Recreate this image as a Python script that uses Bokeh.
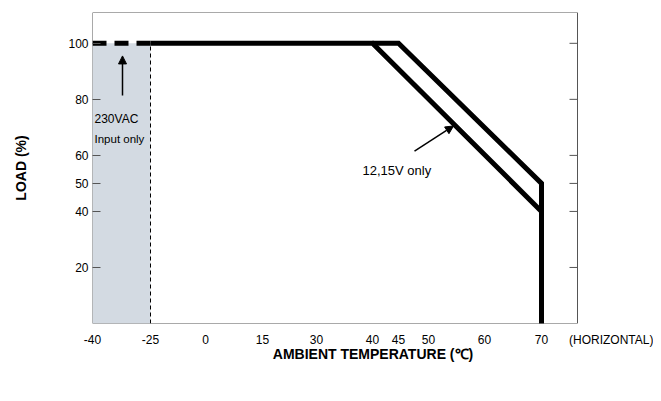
import numpy as np
from bokeh.plotting import figure
from bokeh.models import Label, Arrow, NormalHead, FixedTicker
from bokeh.embed import file_html
from bokeh.resources import INLINE

# axis ticks (the x axis of the original is not linear)
temp_ticks = [-40, -25, 0, 15, 30, 40, 45, 50, 60, 70]
tick_pos = [92, 150, 205, 262, 316, 372, 398, 428, 484, 541]
load_ticks = [20, 40, 50, 60, 80, 100]

# derating curves (temperature, load %)
curve_a_t = [-25, 40, 70, 70]
curve_a_y = [100, 100, 40, 0]
curve_b_t = [40, 45, 70, 70]
curve_b_y = [100, 100, 50, 0]
dash_t = [-40, -25]
dash_y = [100, 100]
shade_t = [-40, -25]

FRAME_R = 577   # right edge of the boxed chart area
Y_TOP = 111


def tx(t):
    return list(np.interp(t, temp_ticks, tick_pos))


FONT = "Liberation Sans"

p = figure(width=653, height=393, x_range=(92, 653), y_range=(0, Y_TOP),
           output_backend="svg", toolbar_location=None,
           min_border_left=92, min_border_right=0, min_border_top=12, min_border_bottom=70)
p.grid.visible = False
p.outline_line_color = None

# box around chart area
box_col = "#555555"
p.segment(x0=[92, 92, 92, FRAME_R], y0=[0, Y_TOP, 0, 0],
          x1=[FRAME_R, FRAME_R, 92, FRAME_R], y1=[0, Y_TOP, Y_TOP, Y_TOP],
          line_color=box_col, line_width=1)
# right-side inward ticks
p.segment(x0=[FRAME_R - 8] * len(load_ticks), y0=load_ticks,
          x1=[FRAME_R] * len(load_ticks), y1=load_ticks, line_color=box_col, line_width=1)

labels = {x: str(t) for x, t in zip(tick_pos, temp_ticks)}
labels[612] = "(HORIZONTAL)"
p.xaxis.ticker = FixedTicker(ticks=tick_pos + [612])
p.xaxis.major_label_overrides = labels
p.xaxis.major_tick_line_color = None
p.xaxis.minor_tick_line_color = None
p.xaxis.axis_line_color = None
p.xaxis.major_label_text_font = FONT
p.xaxis.major_label_text_font_size = "12px"
p.xaxis.major_label_text_color = "black"
p.xaxis.major_label_standoff = 3
p.xaxis.axis_label = "AMBIENT TEMPERATURE (\u2103)"
p.xaxis.axis_label_text_font = FONT
p.xaxis.axis_label_text_font_style = "bold"
p.xaxis.axis_label_text_font_size = "14px"
p.xaxis.axis_label_text_color = "black"
p.xaxis.axis_label_standoff = -4

p.yaxis.ticker = FixedTicker(ticks=load_ticks)
p.yaxis.major_tick_in = 8
p.yaxis.major_tick_out = 0
p.yaxis.major_tick_line_color = box_col
p.yaxis.minor_tick_line_color = None
p.yaxis.axis_line_color = None
p.yaxis.major_label_text_font = FONT
p.yaxis.major_label_text_font_size = "12px"
p.yaxis.major_label_text_color = "black"
p.yaxis.major_label_standoff = 4
p.yaxis.axis_label = "LOAD (%)"
p.yaxis.axis_label_text_font = FONT
p.yaxis.axis_label_text_font_style = "bold"
p.yaxis.axis_label_text_font_size = "14px"
p.yaxis.axis_label_text_color = "black"
p.yaxis.axis_label_standoff = 36

p.quad(left=tx(shade_t)[0], right=tx(shade_t)[1], bottom=0, top=100,
       fill_color="#d3dae2", line_color=None)
p.line(tx([-25, -25]), [0, 100], line_color="black", line_width=1, line_dash="4 3")
p.line(tx(dash_t), dash_y, line_color="black", line_width=5, line_dash="14 8")
p.line(tx(curve_a_t), curve_a_y, line_color="black", line_width=5, line_join="miter")
p.line(tx(curve_b_t), curve_b_y, line_color="black", line_width=5, line_join="miter")

p.add_layout(Arrow(end=NormalHead(size=8, fill_color="black", line_color="black"),
                   x_start=122, y_start=81.4, x_end=122, y_end=95.5, line_width=1.5))
p.add_layout(Arrow(end=NormalHead(size=8, fill_color="black", line_color="black"),
                   x_start=414, y_start=61.5, x_end=453, y_end=70.5, line_width=1.5))


def lab(x, y, text, **kw):
    opts = dict(text_font=FONT, text_font_size="12px", text_baseline="middle",
                text_color="black")
    opts.update(kw)
    p.add_layout(Label(x=x, y=y, text=text, **opts))


lab(94, 73, "230VAC", text_font_size="12px")
lab(94, 66, "Input only", text_font_size="11.5px")
lab(362, 54.5, "12,15V only", text_font_size="13px")

open("out.html", "w").write(file_html(p, INLINE))
